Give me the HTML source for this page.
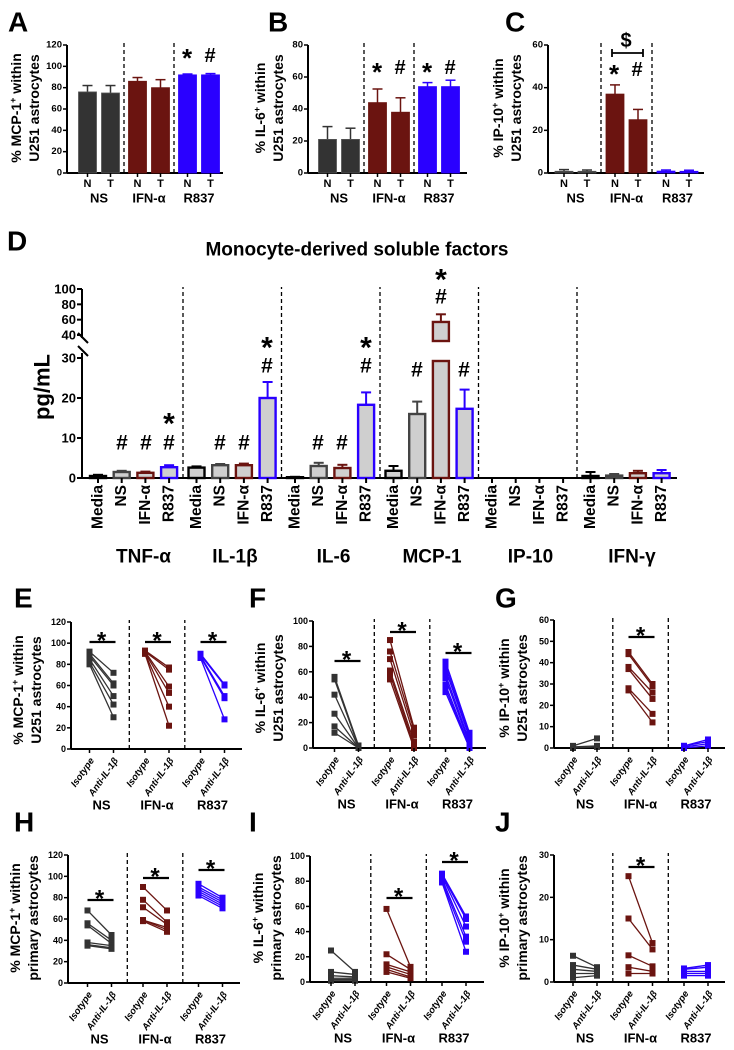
<!DOCTYPE html>
<html><head><meta charset="utf-8">
<style>
html,body{margin:0;padding:0;background:#fff;}
svg{display:block;font-family:"Liberation Sans",Arial,sans-serif;font-weight:bold;}
</style></head>
<body>
<svg id="fig" width="734" height="1050" viewBox="0 0 734 1050" xmlns="http://www.w3.org/2000/svg">
<g id="root"></g>
</svg>
<script>
// ---------- data ----------
const COLORS = ['#333333', '#6b1410', '#2a00ff'];
const groupNames = ['NS', 'IFN-α', 'R837'];
const aVals = [76, 75, 86, 80, 92, 92];
const aErrs = [6, 7, 3.5, 7.5, 0.8, 1.2];
const bVals = [21, 21, 44, 38, 54, 54];
const bErrs = [8, 7, 8.5, 9, 2.5, 4];
const cVals = [0.8, 0.8, 37, 25, 0.9, 0.8];
const cErrs = [0.8, 0.6, 4.3, 4.8, 0.5, 0.5];
const aTicks = [0, 20, 40, 60, 80, 100, 120];
const bTicks = [0, 20, 40, 60, 80];
const cTicks = [0, 20, 40, 60];
const dCytokines = ['TNF-α', 'IL-1β', 'IL-6', 'MCP-1', 'IP-10', 'IFN-γ'];
const dConds = ['Media', 'NS', 'IFN-α', 'R837'];
const dVals = [[0.5, 1.5, 1.3, 2.7], [2.6, 3.2, 3.2, 20], [0.2, 3.0, 2.5, 18.3], [1.8, 16, 57, 17.3], [0, 0, 0, 0], [0.5, 0.6, 1.2, 1.2]];
const dErrs = [[0.3, 0.3, 0.3, 0.5], [0.3, 0.3, 0.4, 4], [0.1, 0.8, 0.8, 3.1], [1.2, 3.1, 10, 4.8], [0, 0, 0, 0], [1.0, 0.4, 0.6, 0.8]];
const dTicksLow = [0, 10, 20, 30];
const dTicksHigh = [40, 60, 80, 100];
const eIso = [[92, 90, 88, 85, 82, 80], [93, 92, 92, 91, 90, 90], [90, 89, 88, 87, 86]];
const eAnti = [[72, 62, 60, 50, 42, 30], [77, 75, 59, 53, 40, 22], [61, 60, 50, 48, 28]];
const fIso = [[56, 54, 42, 27, 17, 12], [85, 76, 70, 61, 58, 54], [68, 65, 62, 58, 55, 50, 47, 44]];
const fAnti = [[2, 1, 0.5, 0, 0, 0], [16, 14, 10, 5, 2, 0], [12, 10, 8, 5, 3, 1, 0, 0]];
const gIso = [[1, 0.5, 0], [45, 44, 38, 37, 28, 27], [1, 1, 0.5, 0]];
const gAnti = [[4.5, 1, 0.5], [30, 29, 26, 23, 16, 12], [4, 3, 2, 1]];
const hIso = [[68, 56, 54, 38, 36, 35], [90, 78, 71, 59, 59, 58], [93, 90, 88, 86, 84, 82]];
const hAnti = [[45, 40, 37, 35, 33, 32], [68, 57, 55, 52, 50, 48], [80, 78, 76, 74, 72, 70]];
const iIso = [[25, 8, 5, 3, 2, 1], [58, 22, 14, 12, 10, 8], [86, 85, 84, 82, 80, 79]];
const iAnti = [[8, 6, 4, 3, 2, 1], [12, 10, 8, 6, 4, 3], [52, 50, 44, 36, 32, 24]];
const jIso = [[6.2, 4, 3, 2, 1], [25, 15, 6.3, 3.5, 2], [3.2, 3, 2.5, 2, 1.5]];
const jAnti = [[3.5, 3, 2.5, 2, 1.5], [9.2, 7.7, 3.7, 2.5, 2], [4, 3.5, 2.5, 2, 1.5]];
const e120 = [0, 20, 40, 60, 80, 100, 120];
const f100 = [0, 20, 40, 60, 80, 100];
const g60 = [0, 10, 20, 30, 40, 50, 60];
const j30 = [0, 10, 20, 30];

// ---------- helpers ----------
const NS = 'http://www.w3.org/2000/svg';
const root = document.getElementById('root');
function mk(tag, attrs, parent, txt) {
  const e = document.createElementNS(NS, tag);
  for (const k in attrs) e.setAttribute(k, attrs[k]);
  if (txt !== undefined) e.textContent = txt;
  (parent || root).appendChild(e);
  return e;
}
function grp(name, parent) {
  const g = mk('g', {}, parent);
  
  
  return g;
}
function txt(g, x, y, s, size, name, extra) {
  const a = Object.assign({x: x, y: y, 'font-size': size, 'text-anchor': 'middle', 'dominant-baseline': 'central', fill: '#000'}, extra || {});
  const t = mk('text', a, g, s);
  
  
  return t;
}
function ylabel(g, x, y, lines, name) {
  lines.forEach((ln, i) => {
    const t = mk('text', {x: 0, y: 0, 'font-size': 14, 'text-anchor': 'middle', transform: `translate(${x + i * 18 + 5},${y}) rotate(-90)`}, g);
    
    
    let raised = false;
    ln.forEach(p => {
      const a = {};
      if (p.sup) { a['font-size'] = 9; a.dy = -5; raised = true; }
      else if (raised) { a.dy = 5; raised = false; }
      mk('tspan', a, t, p.t);
    });
  });
}
function yaxis(g, x0, y0, yTop, ticks, sc, fs) {
  const ax = mk('line', {x1: x0, x2: x0, y1: y0, y2: sc(ticks[ticks.length - 1]), stroke: '#000', 'stroke-width': 2}, g);
  
  
  ticks.forEach(v => {
    const y = sc(v);
    mk('line', {x1: x0 - 4, x2: x0, y1: y, y2: y, stroke: '#000', 'stroke-width': 1.5}, g);
    txt(g, x0 - 5, y, String(v), fs || 9.5, 'y-tick-label', {'text-anchor': 'end'});
  });
}
function divider(g, x, y1, y2) {
  const l = mk('line', {x1: x, x2: x, y1: y1, y2: y2, stroke: '#000', 'stroke-width': 1.3, 'stroke-dasharray': '4,3'}, g);
  
  
}

// ---------- bar panels A-C ----------
function barPanel(p) {
  const g = grp('panel-' + p.letter);
  txt(g, p.lx, 22, p.letter, 28, 'panel-letter', {'text-anchor': 'start'});
  const sc = v => p.y0 - v / p.max * (p.y0 - p.yTop);
  ylabel(g, p.labx, 108, p.ylab, 'y-axis-title');
  yaxis(g, p.x0, p.y0, p.yTop, p.ticks, sc);
  mk('line', {x1: p.x0, x2: p.xEnd, y1: p.y0, y2: p.y0, stroke: '#000', 'stroke-width': 2}, g);
  for (let gi = 0; gi < 3; gi++) {
    const c = p.c0 + gi * p.sp;
    if (gi > 0) divider(g, c - p.sp / 2, p.y0, p.yTop - 2);
    txt(g, c, 198, groupNames[gi], 13, 'group-label');
    ['N', 'T'].forEach((nt, k) => {
      const i = gi * 2 + k;
      const x = c + (k ? 11.5 : -11.5);
      const v = p.vals[i], e = p.errs[i];
      mk('line', {x1: x, x2: x, y1: sc(v), y2: sc(v + e), stroke: COLORS[gi], 'stroke-width': 1.5}, g);
      mk('line', {x1: x - 5, x2: x + 5, y1: sc(v + e), y2: sc(v + e), stroke: COLORS[gi], 'stroke-width': 1.5}, g);
      const b = mk('rect', {x: x - 9, y: sc(v), width: 18, height: Math.max(0.5, p.y0 - sc(v)), fill: COLORS[gi], stroke: gi === 0 ? '#555' : COLORS[gi], 'stroke-width': 0.8}, g);
      
      
      mk('line', {x1: x, x2: x, y1: p.y0, y2: p.y0 + 4, stroke: '#000', 'stroke-width': 1.5}, g);
      txt(g, x, 184, nt, 11, 'x-tick-label');
    });
  }
  (p.ann || []).forEach(a => txt(g, a[0], a[1], a[2], a[3] || 22, 'significance-mark'));
  return g;
}
barPanel({letter: 'A', lx: 8, x0: 67, xEnd: 223, y0: 173, yTop: 45, max: 120, ticks: aTicks, vals: aVals, errs: aErrs, c0: 99, sp: 50,
  labx: 16, ylab: [[{t: '% MCP-1'}, {t: '+', sup: 1}, {t: ' within'}], [{t: 'U251 astrocytes'}]],
  ann: [[187, 58, '*', 26], [210, 56, '#', 20]]});
barPanel({letter: 'B', lx: 268, x0: 308, xEnd: 467, y0: 173, yTop: 45, max: 80, ticks: bTicks, vals: bVals, errs: bErrs, c0: 339, sp: 50,
  labx: 260, ylab: [[{t: '% IL-6'}, {t: '+', sup: 1}, {t: ' within'}], [{t: 'U251 astrocytes'}]],
  ann: [[377, 72, '*', 26], [400, 68, '#', 20], [427, 72, '*', 26], [450, 68, '#', 20]]});
const gC = barPanel({letter: 'C', lx: 505, x0: 548, xEnd: 704, y0: 173, yTop: 45, max: 60, ticks: cTicks, vals: cVals, errs: cErrs, c0: 575.5, sp: 51,
  labx: 498, ylab: [[{t: '% IP-10'}, {t: '+', sup: 1}, {t: ' within'}], [{t: 'U251 astrocytes'}]],
  ann: [[614, 74, '*', 26], [637, 70, '#', 20], [626, 41, '$', 20]]});
mk('line', {x1: 612, x2: 643, y1: 53, y2: 53, stroke: '#000', 'stroke-width': 1.8}, gC);
mk('line', {x1: 612, x2: 612, y1: 49, y2: 57, stroke: '#000', 'stroke-width': 1.8}, gC);
mk('line', {x1: 643, x2: 643, y1: 49, y2: 57, stroke: '#000', 'stroke-width': 1.8}, gC);

// ---------- panel D ----------
(function () {
  const g = grp('panel-D');
  txt(g, 7, 241, 'D', 28, 'panel-letter', {'text-anchor': 'start'});
  txt(g, 357, 250, 'Monocyte-derived soluble factors', 19, 'chart-title');
  const x0 = 82, y0 = 478, lowTop = 358, upBot = 335, upTop = 289;
  const low = v => y0 - v * (y0 - lowTop) / 30;
  const high = v => upBot - (v - 40) * (upBot - upTop) / 60;
  const t = mk('text', {x: 0, y: 0, 'font-size': 22, 'text-anchor': 'middle', 'dominant-baseline': 'central', transform: 'translate(42,387) rotate(-90)'}, g, 'pg/mL');
  
  
  mk('line', {x1: x0, x2: x0, y1: y0, y2: lowTop - 5, stroke: '#000', 'stroke-width': 2}, g);
  mk('line', {x1: x0, x2: x0, y1: upTop, y2: upBot + 3, stroke: '#000', 'stroke-width': 2}, g);
  mk('line', {x1: x0 - 4, x2: x0 + 6, y1: upBot - 2, y2: upBot + 8, stroke: '#000', 'stroke-width': 2}, g);
  mk('line', {x1: x0 - 4, x2: x0 + 6, y1: lowTop - 12, y2: lowTop - 2, stroke: '#000', 'stroke-width': 2}, g);
  dTicksLow.forEach(v => { mk('line', {x1: x0 - 5, x2: x0, y1: low(v), y2: low(v), stroke: '#000', 'stroke-width': 2}, g); txt(g, x0 - 6, low(v), String(v), 13, 'y-tick-label', {'text-anchor': 'end'}); });
  dTicksHigh.forEach(v => { mk('line', {x1: x0 - 5, x2: x0, y1: high(v), y2: high(v), stroke: '#000', 'stroke-width': 2}, g); txt(g, x0 - 6, high(v), String(v), 13, 'y-tick-label', {'text-anchor': 'end'}); });
  mk('line', {x1: x0, x2: 677, y1: y0, y2: y0, stroke: '#000', 'stroke-width': 2}, g);
  const sy = v => v <= 30 ? low(v) : high(v);
  const bcol = ['#000', '#444', '#6b1410', '#2a00ff'];
  dCytokines.forEach((cy, ci) => {
    const gs = 84.5 + ci * 98.5;
    if (ci > 0) divider(g, gs, y0, 287);
    txt(g, gs + 49 + (ci === 0 ? 10 : ci === 5 ? 6 : 3), 557, cy, 19, 'cytokine-label');
    dConds.forEach((cd, k) => {
      const x = gs + 13.5 + k * 23.7;
      const v = dVals[ci][k], e = dErrs[ci][k];
      const col = bcol[k];
      if (e > 0) {
        mk('line', {x1: x, x2: x, y1: sy(v), y2: sy(v + e), stroke: col, 'stroke-width': 2}, g);
        mk('line', {x1: x - 5, x2: x + 5, y1: sy(v + e), y2: sy(v + e), stroke: col, 'stroke-width': 2}, g);
      }
      if (v > 0) {
        if (v <= 30) {
          const r = mk('rect', {x: x - 8, y: low(v), width: 16, height: y0 - low(v), fill: '#cfcfcf', stroke: col, 'stroke-width': 2.4}, g);
          
          
        } else {
          const r = mk('rect', {x: x - 8, y: lowTop + 3, width: 16, height: y0 - lowTop - 3, fill: '#cfcfcf', stroke: col, 'stroke-width': 2.4}, g);
          
          
          const r2 = mk('rect', {x: x - 8, y: high(v), width: 16, height: upBot + 6 - high(v), fill: '#cfcfcf', stroke: col, 'stroke-width': 2.4}, g);
          
          
        }
      }
      mk('line', {x1: x, x2: x, y1: y0, y2: y0 + 5, stroke: '#000', 'stroke-width': 2}, g);
      const lt = mk('text', {x: 0, y: 0, 'font-size': 15.5, 'text-anchor': 'end', 'dominant-baseline': 'central', transform: `translate(${x},485) rotate(-90)`}, g, cd);
      
      
    });
  });
  const ann = [[122, 443, '#'], [146, 443, '#'], [169, 443, '#'], [169, 418, '*'],
    [220, 443, '#'], [244, 443, '#'], [267, 366, '#'], [267, 342, '*'],
    [318, 443, '#'], [342, 443, '#'], [366, 366, '#'], [366, 342, '*'],
    [417, 370, '#'], [441, 297, '#'], [441, 274, '*'], [464, 370, '#']];
  ann.forEach(a => txt(g, a[0], a[1], a[2], a[2] === '*' ? 30 : 21, 'significance-mark', a[2] === '*' ? {dy: 6} : {}));
})();

// ---------- paired panels ----------
function pairPanel(p) {
  const g = grp('panel-' + p.letter);
  txt(g, p.lx, p.ly, p.letter, 28, 'panel-letter', {'text-anchor': 'start'});
  const sc = v => p.y0 - v / p.max * (p.y0 - p.yTop);
  ylabel(g, p.labx, p.labY, p.ylab, 'y-axis-title');
  yaxis(g, p.x0, p.y0, p.yTop, p.ticks, sc, 9);
  mk('line', {x1: p.x0, x2: p.xEnd, y1: p.y0, y2: p.y0, stroke: '#000', 'stroke-width': 2}, g);
  for (let gi = 0; gi < 3; gi++) {
    const c = p.c0 + gi * 55.5;
    if (gi > 0) divider(g, c - 27.7, p.y0, p.yTop - 2);
    const xi = c - 12, xa = c + 12;
    const sg = grp('series-' + groupNames[gi], g);
    p.iso[gi].forEach((v, s) => {
      const va = p.anti[gi][s];
      const l = mk('line', {x1: xi, x2: xa, y1: sc(v), y2: sc(va), stroke: COLORS[gi], 'stroke-width': 1.3}, sg);
      
      
      [[xi, v], [xa, va]].forEach(pt => {
        const r = mk('rect', {x: pt[0] - 3, y: sc(pt[1]) - 3, width: 6, height: 6, fill: COLORS[gi]}, sg);
        
        
      });
    });
    [[xi, 'Isotype'], [xa, 'Anti-IL-1β']].forEach(q => {
      mk('line', {x1: q[0], x2: q[0], y1: p.y0, y2: p.y0 + 4, stroke: '#000', 'stroke-width': 1.5}, g);
      const t = mk('text', {x: 0, y: 0, 'font-size': 9.5, 'font-style': 'italic', 'text-anchor': 'end', 'dominant-baseline': 'central', transform: `translate(${q[0] + 3},${p.y0 + 10}) rotate(-55)`}, g, q[1]);
      
      
    });
    txt(g, c, p.y0 + 56, groupNames[gi], 13, 'group-label');
    if (p.sig[gi] !== null) {
      const y = p.sig[gi];
      mk('line', {x1: xi, x2: xa + 2, y1: y, y2: y, stroke: '#000', 'stroke-width': 2.2}, g);
      txt(g, c, y - 6, '*', 24, 'significance-mark', {dy: 5});
    }
  }
}
const lbl = (a, b) => [[{t: a}, {t: '+', sup: 1}, {t: ' within'}], [{t: b}]];
pairPanel({letter: 'E', lx: 14, ly: 598, x0: 71, xEnd: 242, y0: 749, yTop: 622, max: 120, ticks: e120, iso: eIso, anti: eAnti, c0: 101.5, labx: 18, labY: 690, ylab: lbl('% MCP-1', 'U251 astrocytes'), sig: [642, 642, 642]});
pairPanel({letter: 'F', lx: 249, ly: 598, x0: 313, xEnd: 486, y0: 748, yTop: 621, max: 100, ticks: f100, iso: fIso, anti: fAnti, c0: 346.5, labx: 260, labY: 688, ylab: lbl('% IL-6', 'U251 astrocytes'), sig: [661, 632, 653]});
pairPanel({letter: 'G', lx: 495, ly: 598, x0: 554, xEnd: 725, y0: 748, yTop: 620, max: 60, ticks: g60, iso: gIso, anti: gAnti, c0: 585, labx: 504, labY: 688, ylab: lbl('% IP-10', 'U251 astrocytes'), sig: [null, 637, null]});
pairPanel({letter: 'H', lx: 14, ly: 822, x0: 68, xEnd: 240, y0: 983, yTop: 855, max: 120, ticks: e120, iso: hIso, anti: hAnti, c0: 99.5, labx: 15, labY: 918, ylab: lbl('% MCP-1', 'primary astrocytes'), sig: [900, 878, 870]});
pairPanel({letter: 'I', lx: 249, ly: 822, x0: 310, xEnd: 484, y0: 982, yTop: 856, max: 100, ticks: f100, iso: iIso, anti: iAnti, c0: 343, labx: 258, labY: 918, ylab: lbl('% IL-6', 'primary astrocytes'), sig: [null, 898, 862]});
pairPanel({letter: 'J', lx: 495, ly: 822, x0: 554, xEnd: 725, y0: 982, yTop: 855, max: 30, ticks: j30, iso: jIso, anti: jAnti, c0: 585, labx: 504, labY: 918, ylab: lbl('% IP-10', 'primary astrocytes'), sig: [null, 867, null]});
</script>
</body></html>
